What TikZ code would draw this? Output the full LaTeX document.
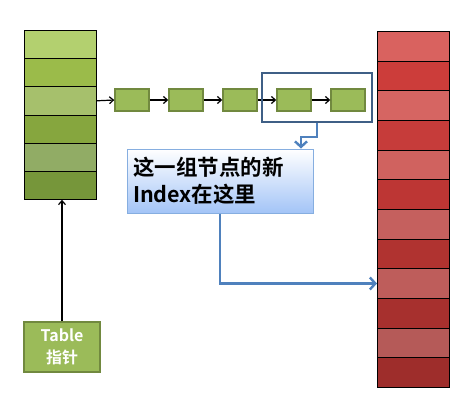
\documentclass[tikz,border=0pt]{standalone}
\usepackage{fontspec}
\newfontfamily\cjkbold{Noto Sans CJK SC Bold}
\usetikzlibrary{arrows.meta, positioning}

% left table (green)
\definecolor{tg1}{HTML}{B3D06F}
\definecolor{tg2}{HTML}{9BBB4A}
\definecolor{tg3}{HTML}{A6C06C}
\definecolor{tg4}{HTML}{86A63E}
\definecolor{tg5}{HTML}{91AC65}
\definecolor{tg6}{HTML}{76963A}
% right table (red)
\definecolor{tr1}{HTML}{D9625F}
\definecolor{tr2}{HTML}{CC3D3A}
\definecolor{tr3}{HTML}{D66562}
\definecolor{tr4}{HTML}{C63C3A}
\definecolor{tr5}{HTML}{D0625F}
\definecolor{tr6}{HTML}{BD3634}
\definecolor{tr7}{HTML}{C5605E}
\definecolor{tr8}{HTML}{B03330}
\definecolor{tr9}{HTML}{BE5D5B}
\definecolor{tr10}{HTML}{A7302E}
\definecolor{tr11}{HTML}{B55A58}
\definecolor{tr12}{HTML}{9E2D2B}
\definecolor{itemfill}{HTML}{9BBB59}
\definecolor{itemline}{HTML}{71893F}
\definecolor{framecol}{HTML}{3F5F86}
\definecolor{calloutcol}{HTML}{4F81BD}
\definecolor{lblline}{HTML}{86AEE0}
\definecolor{lblshade}{HTML}{A3C4F7}

\begin{document}
\begin{tikzpicture}[
        x=1pt, y=-1pt,
        cell/.style={draw=black, line width=0.6pt, minimum width=72pt, inner sep=0pt, anchor=north west},
        item/.style={draw=itemline, fill=itemfill, line width=1.4pt, minimum width=34pt, minimum height=22pt, inner sep=0pt},
        link/.style={-{Straight Barb[length=4pt, width=7pt]}, line width=1.2pt, black},
        callout/.style={-{Straight Barb[length=5.5pt, width=12pt]}, line width=2.4pt, calloutcol}
    ]

    \useasboundingbox (0,0) rectangle (474,402);

    % tables
    \foreach \i in {1,...,6}
        \node[cell, fill=tg\i, minimum height=28.2pt] (t\i) at (24,{30+(\i-1)*28.2}) {};
    \foreach \i in {1,...,12}
        \node[cell, fill=tr\i, minimum height=29.67pt] (r\i) at (377,{31+(\i-1)*29.67}) {};

    % linked list
    \node[item] (n1) at (132,100) {};
    \node[item] (n2) [right=18.6pt of n1] {};
    \node[item] (n3) [right=18.6pt of n2] {};
    \node[item] (n4) [right=18.6pt of n3] {};
    \node[item] (n5) [right=18.6pt of n4] {};

    \draw[link] (t3.east) -- (n1.west);
    \draw[link] (n1) -- (n2);
    \draw[link] (n2) -- (n3);
    \draw[link] (n3) -- (n4);
    \draw[link] (n4) -- (n5);

    \node[draw=framecol, line width=1.5pt, minimum width=110pt, minimum height=49pt] (grp) at (317,97.5) {};

    % label
    \node[draw=lblline, line width=1pt, top color=white, bottom color=lblshade,
          minimum width=186pt, minimum height=64pt, text width=174pt, inner sep=6pt,
          align=left, font=\cjkbold\fontsize{21.5}{27}\selectfont] (lbl) at (220,181)
        {这一组节点的新\\Index在这里};

    \coordinate (bend) at (301,137);
    \draw[callout] (grp.south) |- (bend) -- (lbl.north -| bend);
    \draw[callout] (lbl.south) |- (r9.west);

    % table pointer
    \node[draw=itemline, fill=itemfill, line width=1.4pt, minimum width=76pt, minimum height=50pt,
          align=center, text=white, font=\cjkbold\fontsize{16}{22}\selectfont] (tp) at (62,347)
        {Table\\指针};
    \draw[link] (tp.north) -- (tp.north |- t6.south);
\end{tikzpicture}
\end{document}
